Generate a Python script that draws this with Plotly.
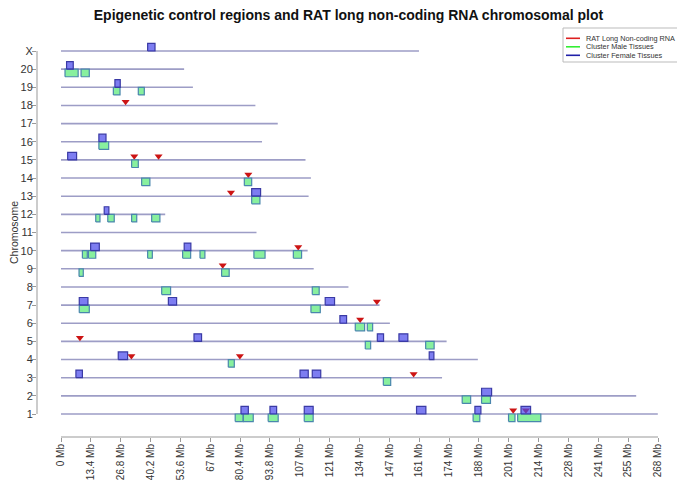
import plotly.graph_objects as go

# ---------------- data ----------------
chrom_names = [str(i) for i in range(1, 21)] + ["X"]
chrom_lengths_mb = [267.91, 258.21, 171.06, 187.13, 173.10, 147.64, 143.00, 129.04,
                    113.44, 110.72, 87.76, 46.78, 111.15, 112.19, 109.76, 90.24,
                    97.30, 87.27, 59.22, 55.27, 160.70]

# RAT long non-coding RNA positions
lnc_chrom = ["18", "15", "15", "14", "13", "10", "9", "7", "6", "5", "4", "4", "3", "1", "1"]
lnc_pos_mb = [29.0, 32.9, 43.8, 84.1, 76.3, 106.5, 72.6, 141.8, 134.3, 8.5, 31.6, 80.3,
              158.3, 203.0, 208.7]

# Cluster Female Tissues
fem_chrom = ["X", "20", "19", "16", "15", "13", "12", "10", "10", "7", "7", "7", "6",
             "5", "5", "5", "4", "4", "3", "3", "3", "2",
             "1", "1", "1", "1", "1", "1"]
fem_start_mb = [38.9, 2.5, 24.2, 17.0, 3.0, 85.6, 19.4, 13.3, 55.3, 8.2, 48.2, 118.6, 125.2,
                59.7, 142.0, 151.7, 25.7, 165.3, 6.7, 107.3, 112.8, 188.8,
                80.8, 93.8, 109.2, 159.6, 185.8, 206.5]
fem_end_mb = [42.2, 5.5, 26.6, 20.2, 7.0, 89.6, 21.5, 17.2, 58.3, 12.1, 51.9, 122.8, 128.2,
              63.1, 144.8, 155.7, 29.9, 167.4, 9.6, 111.0, 116.6, 193.3,
              84.1, 96.8, 113.2, 163.8, 188.5, 210.8]

# Cluster Male Tissues
male_chrom = ["20", "20", "19", "19", "16", "15", "14", "14", "13",
              "12", "12", "12", "12",
              "10", "10", "10", "10", "10", "10", "10",
              "9", "9", "8", "8", "7", "7", "6", "6", "5", "5", "4", "3", "2", "2",
              "1", "1", "1", "1", "1", "1", "1"]
male_start_mb = [1.8, 9.0, 23.5, 34.7, 17.0, 31.7, 36.2, 82.3, 85.6,
                 15.6, 21.0, 31.7, 40.7,
                 9.6, 12.3, 38.9, 54.6, 62.4, 86.6, 104.3,
                 8.1, 72.1, 45.2, 112.8, 8.2, 112.2, 132.1, 137.5, 136.6, 163.7, 75.1, 144.7,
                 180.1, 188.8,
                 78.2, 81.8, 93.0, 109.2, 185.0, 200.9, 205.0]
male_end_mb = [7.7, 12.7, 26.5, 37.4, 21.4, 34.7, 39.9, 85.6, 89.3,
               17.5, 23.9, 34.0, 44.4,
               11.8, 15.6, 41.0, 58.2, 64.6, 91.6, 108.0,
               10.0, 75.5, 49.2, 115.9, 12.7, 116.4, 136.3, 139.9, 139.0, 167.5, 77.8, 148.0,
               183.9, 192.8,
               81.8, 86.3, 97.5, 113.2, 188.0, 203.8, 215.4]

x_tick_values_mb = [0, 13.4, 26.8, 40.2, 53.6, 67.0, 80.4, 93.8, 107.2, 120.6, 134.0,
                    147.4, 160.8, 174.2, 187.6, 201.0, 214.4, 227.8, 241.2, 254.6, 268.0]
x_tick_labels = ["0 Mb", "13.4 Mb", "26.8 Mb", "40.2 Mb", "53.6 Mb", "67 Mb", "80.4 Mb",
                 "93.8 Mb", "107 Mb", "121 Mb", "134 Mb", "147 Mb", "161 Mb", "174 Mb",
                 "188 Mb", "201 Mb", "214 Mb", "228 Mb", "241 Mb", "255 Mb", "268 Mb"]

legend_labels = ["RAT Long Non-coding RNA", "Cluster Male Tissues", "Cluster Female Tissues"]
legend_colors = ["#dd2020", "#33ee33", "#2020a8"]

# ---------------- layout constants (screen pixels) ----------------
PAGE_W, PAGE_H = 685, 483
OFF = 8                                # default page body margin
L, R, T, B = 37, 660, 40, 437          # plot area in screen pixels
X0_PX, X1_PX = 61, 658                 # 0 Mb and 268 Mb pixel positions
ROW1_PX, ROWX_PX = 414, 51             # row 1 and row 21 pixel positions
FONT = "Liberation Sans, Arial, sans-serif"

W, H = PAGE_W - OFF, PAGE_H - OFF

mb_per_px = 268.0 / (X1_PX - X0_PX)
x_range = [-(X0_PX - L) * mb_per_px, 268.0 + (R - X1_PX) * mb_per_px]
row_per_px = 20.0 / (ROW1_PX - ROWX_PX)
y_range = [1 - (B - ROW1_PX) * row_per_px, 21 + (ROWX_PX - T) * row_per_px]


def row_of(c):
    return chrom_names.index(c) + 1


def px_to_paper_x(px):
    return (px - L) / (R - L)


def px_to_paper_y(py):
    return (B - py) / (B - T)


def box_path(chroms, starts, ends, lo, hi):
    xs, ys = [], []
    for c, s, e in zip(chroms, starts, ends):
        r = row_of(c)
        xs += [s, e, e, s, s, None]
        ys += [r + lo, r + lo, r + hi, r + hi, r + lo, None]
    return xs, ys


fig = go.Figure()

# chromosome lines
cx, cy = [], []
for i, ln in enumerate(chrom_lengths_mb):
    cx += [0, ln, None]
    cy += [i + 1, i + 1, None]
fig.add_trace(go.Scatter(x=cx, y=cy, mode="lines", line=dict(color="#9d9dc6", width=1.6),
                         hoverinfo="skip", showlegend=False))

# lncRNA triangles
fig.add_trace(go.Scatter(
    x=lnc_pos_mb, y=[row_of(c) + 0.2 for c in lnc_chrom], mode="markers",
    marker=dict(symbol="triangle-down", size=7, color="#cc1414", line=dict(width=0)),
    name=legend_labels[0], showlegend=False))

# male clusters (below the line)
mx, my = box_path(male_chrom, male_start_mb, male_end_mb, -0.42, 0.0)
fig.add_trace(go.Scatter(x=mx, y=my, mode="lines", fill="toself",
                         fillcolor="#88f09e", line=dict(color="#4a86ad", width=1.2),
                         name=legend_labels[1], showlegend=False, hoverinfo="skip"))

# female clusters (above the line)
fx, fy = box_path(fem_chrom, fem_start_mb, fem_end_mb, 0.0, 0.42)
fig.add_trace(go.Scatter(x=fx, y=fy, mode="lines", fill="toself",
                         fillcolor="rgba(70,70,235,0.7)", line=dict(color="#3a3aa5", width=1.2),
                         name=legend_labels[2], showlegend=False, hoverinfo="skip"))

shapes = []
# axis lines (R-style, spanning only the data range)
shapes.append(dict(type="line", xref="paper", yref="y", x0=0, x1=0, y0=1, y1=21,
                   line=dict(color="#999999", width=1)))
shapes.append(dict(type="line", xref="x", yref="paper", x0=0, x1=268, y0=0, y1=0,
                   line=dict(color="#999999", width=1)))

# legend box
lg_l, lg_r, lg_t, lg_b = 563, 683, 28, 62
shapes.append(dict(type="rect", xref="paper", yref="paper",
                   x0=px_to_paper_x(lg_l), x1=px_to_paper_x(lg_r),
                   y0=px_to_paper_y(lg_b), y1=px_to_paper_y(lg_t),
                   line=dict(color="#bbbbbb", width=1), fillcolor="white"))
annotations = []
for i, (lab, col) in enumerate(zip(legend_labels, legend_colors)):
    yy = 38.3 + i * 8.5
    shapes.append(dict(type="line", xref="paper", yref="paper",
                       x0=px_to_paper_x(566), x1=px_to_paper_x(580),
                       y0=px_to_paper_y(yy), y1=px_to_paper_y(yy),
                       line=dict(color=col, width=1.6)))
    annotations.append(dict(xref="paper", yref="paper", x=px_to_paper_x(585),
                            y=px_to_paper_y(yy), text=lab, showarrow=False,
                            xanchor="left", yanchor="middle", borderpad=0,
                            font=dict(family=FONT, size=7.3, color="#333333")))

# y axis title
annotations.append(dict(xref="paper", yref="paper", x=px_to_paper_x(13.5),
                        y=px_to_paper_y((ROW1_PX + ROWX_PX) / 2), text="Chromosome",
                        textangle=-90, showarrow=False, xanchor="center", yanchor="middle",
                        borderpad=0,
                        font=dict(family=FONT, size=10.5, color="#333333")))

fig.update_layout(
    width=W, height=H,
    margin=dict(l=L - OFF, r=PAGE_W - R, t=T - OFF, b=PAGE_H - B, pad=0, autoexpand=False),
    paper_bgcolor="white", plot_bgcolor="white",
    font=dict(family=FONT, color="#333333"),
    title=dict(text="<b>Epigenetic control regions and RAT long non-coding RNA chromosomal plot</b>",
               x=0.5, xref="paper", xanchor="center", y=1 - (15.5 - OFF) / H, yref="container",
               yanchor="middle", font=dict(family=FONT, size=14, color="#111111")),
    showlegend=False,
    shapes=shapes, annotations=annotations,
    xaxis=dict(range=x_range, tickmode="array", tickvals=x_tick_values_mb,
               ticktext=x_tick_labels, tickangle=-90, ticks="outside", ticklen=4,
               tickcolor="#999999", showgrid=False, zeroline=False, showline=False,
               ticklabelstandoff=-2,
               tickfont=dict(size=10, color="#333333"), automargin=False, fixedrange=True),
    yaxis=dict(range=y_range, tickmode="array", tickvals=list(range(1, 22)),
               ticktext=chrom_names, ticks="outside", ticklen=4, tickcolor="#999999",
               showgrid=False, zeroline=False, showline=False, ticklabelstandoff=-3,
               tickfont=dict(size=11, color="#333333"),
               automargin=False, fixedrange=True),
)

fig.write_html("out.html")
